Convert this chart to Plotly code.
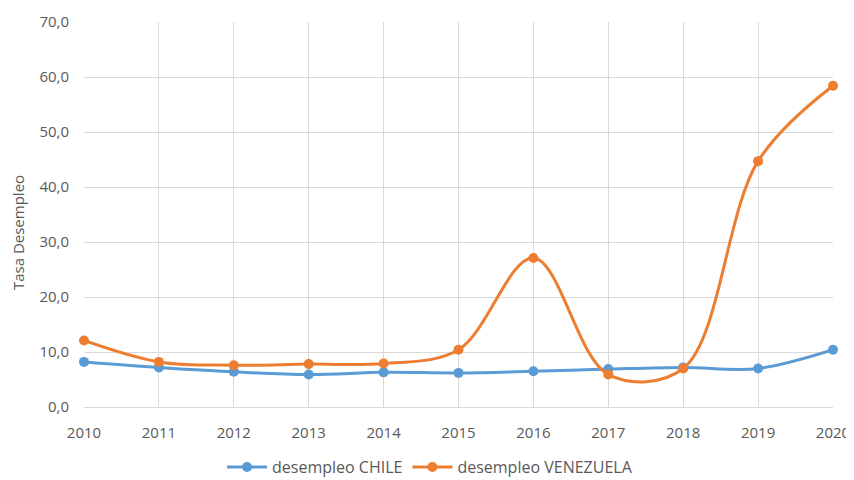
import plotly.graph_objects as go

years = [2010, 2011, 2012, 2013, 2014, 2015, 2016, 2017, 2018, 2019, 2020]
chile = [8.2, 7.2, 6.4, 5.9, 6.3, 6.2, 6.5, 6.9, 7.2, 7.0, 10.4]
venezuela = [12.1, 8.2, 7.6, 7.8, 7.9, 10.4, 27.1, 5.9, 7.0, 44.7, 58.4]
y_ticks = [0, 10, 20, 30, 40, 50, 60, 70]
y_title = "Tasa Desempleo"

fig = go.Figure()
fig.add_trace(go.Scatter(
    x=years, y=chile, name="desempleo CHILE", mode="lines+markers",
    line=dict(color="#5B9BD5", width=3, shape="spline", smoothing=1.0),
    marker=dict(size=10, color="#5B9BD5"), cliponaxis=False))
fig.add_trace(go.Scatter(
    x=years, y=venezuela, name="desempleo VENEZUELA", mode="lines+markers",
    line=dict(color="#ED7D31", width=3, shape="spline", smoothing=1.0),
    marker=dict(size=10, color="#ED7D31"), cliponaxis=False))

# page body has an 8px default margin, so the figure is sized to fit the window
fig.update_layout(
    width=846, height=472,
    margin=dict(l=76, r=21, t=14, b=73, autoexpand=False),
    paper_bgcolor="white", plot_bgcolor="white",
    separators=",.",
    font=dict(family="Open Sans, Liberation Sans, sans-serif", size=15, color="#595959"),
    showlegend=True,
    legend=dict(orientation="h", x=0.462, xanchor="center", y=-0.156, yanchor="middle",
                font=dict(size=16, color="#595959"), itemwidth=40),
    xaxis=dict(range=[2010, 2020], tickvals=years, showgrid=True, gridcolor="#D9D9D9",
               gridwidth=1, zeroline=False, showline=True, linecolor="#D9D9D9",
               ticks="", ticklabelstandoff=12, automargin=False),
    yaxis=dict(range=[0, 70], tickvals=y_ticks, tickformat=".1f", showgrid=True,
               gridcolor="#D9D9D9", gridwidth=1, zeroline=False, showline=False,
               ticks="", ticklabelstandoff=14, automargin=False),
    annotations=[dict(text=y_title, textangle=-90, xref="paper", yref="paper",
                      x=-0.088, y=0.452, xanchor="center", yanchor="middle",
                      showarrow=False, font=dict(size=15, color="#595959"))],
)

fig.write_html("out.html")
